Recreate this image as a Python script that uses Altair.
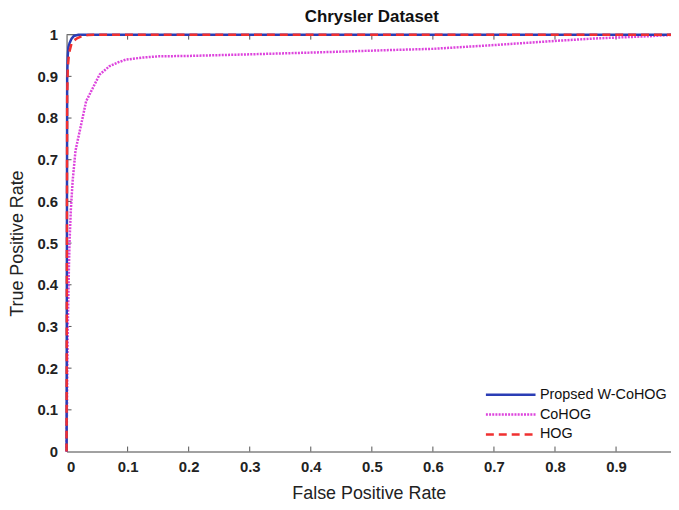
import altair as alt
import pandas as pd

# ---- data ----
wcohog_fpr = [0, 0.001, 0.002, 0.003, 0.005, 0.008, 0.012, 0.02, 0.05, 1.0]
wcohog_tpr = [0, 0.90, 0.95, 0.97, 0.98, 0.99, 0.997, 1.0, 1.0, 1.0]

hog_fpr = [0, 0.001, 0.002, 0.004, 0.008, 0.012, 0.018, 0.025, 0.035, 0.045, 1.0]
hog_tpr = [0, 0.85, 0.92, 0.955, 0.978, 0.986, 0.992, 0.996, 0.999, 1.0, 1.0]

cohog_fpr = [0, 0.002, 0.004, 0.005, 0.007, 0.010, 0.0146, 0.018, 0.024, 0.032,
             0.043, 0.054, 0.070, 0.085, 0.097, 0.124, 0.151, 0.2, 0.28, 0.4,
             0.54, 0.6, 0.7, 0.8, 0.867, 0.95, 1.0]
cohog_tpr = [0, 0.30, 0.45, 0.507, 0.58, 0.65, 0.721, 0.745, 0.785, 0.84,
             0.872, 0.904, 0.924, 0.934, 0.94, 0.945, 0.948, 0.949, 0.952, 0.957,
             0.9635, 0.966, 0.975, 0.985, 0.991, 0.996, 1.0]

series_names = ["Propsed W-CoHOG", "CoHOG", "HOG"]
series_colors = ["#2A3DB5", "#DD44DD", "#F03030"]
series_dashes = [[1, 0], [2, 1.2], [8, 5]]

x_ticks = [0, 0.1, 0.2, 0.3, 0.4, 0.5, 0.6, 0.7, 0.8, 0.9]
y_ticks = [0, 0.1, 0.2, 0.3, 0.4, 0.5, 0.6, 0.7, 0.8, 0.9, 1.0]

rows = []
for name, fx, fy in [("Propsed W-CoHOG", wcohog_fpr, wcohog_tpr),
                     ("CoHOG", cohog_fpr, cohog_tpr),
                     ("HOG", hog_fpr, hog_tpr)]:
    for i, (a, b) in enumerate(zip(fx, fy)):
        rows.append({"series": name, "fpr": a, "tpr": b, "order": i})
df = pd.DataFrame(rows)

W, H = 609, 420
XMAX = 0.99
FONT = "Liberation Sans"
AX = "#555555"

xs = alt.Scale(domain=[0, XMAX], nice=False, zero=False)
ys = alt.Scale(domain=[0, 1], nice=False)

x_axis = alt.Axis(values=x_ticks, format="~g", ticks=False, grid=False,
                  domainColor=AX, labelFont=FONT, labelFontSize=15,
                  labelFontWeight="bold", labelColor="#222222", labelPadding=8,
                  title="False Positive Rate", titleFont=FONT, titleFontSize=18,
                  titleFontWeight="normal", titleColor="#222222", titlePadding=10)
y_axis = alt.Axis(values=y_ticks, format="~g", ticks=False, grid=False,
                  domainColor=AX, labelFont=FONT, labelFontSize=15,
                  labelFontWeight="bold", labelColor="#222222", labelPadding=9,
                  title="True Positive Rate", titleFont=FONT, titleFontSize=18,
                  titleFontWeight="normal", titleColor="#222222", titlePadding=11)

top_line = alt.Chart(pd.DataFrame({"y": [1.0]})).mark_rule(
    color=AX, strokeWidth=1).encode(y=alt.Y("y:Q", scale=ys, axis=y_axis))

tx = pd.DataFrame({"t": x_ticks[1:]})
ty = pd.DataFrame({"t": y_ticks[1:-1]})
bottom_ticks = alt.Chart(tx).mark_rule(color=AX).encode(
    x=alt.X("t:Q", scale=xs, axis=x_axis), y=alt.value(H), y2=alt.value(H - 5))
top_ticks = alt.Chart(tx).mark_rule(color=AX).encode(
    x=alt.X("t:Q", scale=xs, axis=x_axis), y=alt.value(0), y2=alt.value(5))
left_ticks = alt.Chart(ty).mark_rule(color=AX).encode(
    y=alt.Y("t:Q", scale=ys, axis=y_axis), x=alt.value(0), x2=alt.value(5))

lines = alt.Chart(df).mark_line(strokeWidth=2.5, clip=False).encode(
    x=alt.X("fpr:Q", scale=xs, axis=x_axis),
    y=alt.Y("tpr:Q", scale=ys, axis=y_axis),
    color=alt.Color("series:N",
                    scale=alt.Scale(domain=series_names, range=series_colors),
                    legend=alt.Legend(title=None, orient="none", legendX=421,
                                      legendY=353, symbolType="stroke",
                                      symbolSize=2500, symbolStrokeWidth=2.5,
                                      clipHeight=19.5, rowPadding=0,
                                      labelFont=FONT, labelFontSize=14.5,
                                      labelColor="#111111", labelOffset=3,
                                      padding=0)),
    strokeDash=alt.StrokeDash("series:N",
                              scale=alt.Scale(domain=series_names, range=series_dashes),
                              legend=None),
    detail="series:N",
    order="order:Q",
)

# draw CoHOG first, then W-CoHOG, then HOG on top
layers = [top_line, bottom_ticks, top_ticks, left_ticks]
for nm in ["CoHOG", "Propsed W-CoHOG", "HOG"]:
    layers.append(lines.transform_filter(alt.datum.series == nm))

chart = alt.layer(*layers).properties(
    width=W, height=H,
    title=alt.Title("Chrysler Dataset", font=FONT, fontSize=17, fontWeight="bold",
                    color="#111111", anchor="middle", offset=2, dx=3),
    autosize=alt.AutoSizeParams(type="none"),
    padding={"left": 59, "top": 25, "right": 0, "bottom": 49},
).configure_view(stroke=None).configure(background="white")

chart.save("out.html", embed_options={"renderer": "svg", "actions": False})
